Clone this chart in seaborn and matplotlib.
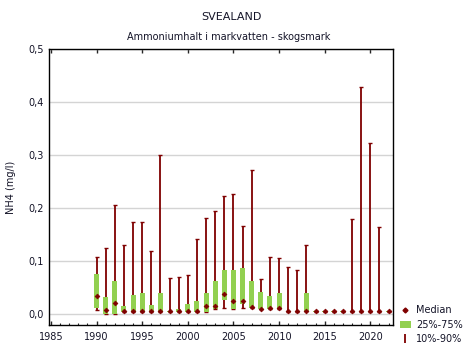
import matplotlib
matplotlib.use("Agg")
import matplotlib.pyplot as plt
import matplotlib.ticker as mticker
from matplotlib.lines import Line2D
from matplotlib.patches import Patch
import pandas as pd
import seaborn as sns

# Percentiles of NH4 per year (mg/l)
years = list(range(1990, 2023))
p10 = [0.008, 0.000, 0.000, 0.004, 0.004, 0.004, 0.004, 0.004, 0.004, 0.004,
       0.004, 0.004, 0.004, 0.010, 0.012, 0.010, 0.012, 0.012, 0.010, 0.010,
       0.010, 0.004, 0.004, 0.006, 0.005, 0.005, 0.005, 0.005, 0.005, 0.005,
       0.005, 0.005, 0.005]
p25 = [0.013, 0.000, 0.000, 0.004, 0.004, 0.004, 0.004, 0.004, 0.004, 0.004,
       0.004, 0.004, 0.004, 0.010, 0.027, 0.010, 0.019, 0.012, 0.010, 0.010,
       0.010, 0.004, 0.004, 0.006, 0.004, 0.004, 0.004, 0.004, 0.004, 0.004,
       0.004, 0.004, 0.004]
median = [0.035, 0.009, 0.021, 0.007, 0.007, 0.007, 0.007, 0.007, 0.007, 0.006,
          0.006, 0.006, 0.016, 0.016, 0.039, 0.026, 0.026, 0.014, 0.011, 0.012,
          0.012, 0.006, 0.006, 0.006, 0.006, 0.006, 0.006, 0.006, 0.006, 0.006,
          0.006, 0.006, 0.006]
p75 = [0.076, 0.033, 0.063, 0.016, 0.036, 0.040, 0.018, 0.040, 0.006, 0.011,
       0.019, 0.025, 0.040, 0.063, 0.084, 0.084, 0.087, 0.063, 0.042, 0.035,
       0.040, 0.006, 0.006, 0.040, 0.006, 0.006, 0.006, 0.006, 0.006, 0.006,
       0.006, 0.006, 0.006]
p90 = [0.109, 0.126, 0.206, 0.130, 0.174, 0.175, 0.119, 0.300, 0.068, 0.071,
       0.075, 0.142, 0.181, 0.195, 0.223, 0.227, 0.166, 0.272, 0.067, 0.109,
       0.106, 0.089, 0.083, 0.131, 0.006, 0.006, 0.006, 0.006, 0.179, 0.428,
       0.323, 0.165, 0.006]

df = pd.DataFrame({"year": years, "p10": p10, "p25": p25, "median": median,
                   "p75": p75, "p90": p90})

sns.set_style("white")
plt.rcParams["font.family"] = ["DejaVu Sans"]
text_col = "#141428"
red = "#7f0000"
green = "#92d050"

fig = plt.figure(figsize=(4.68, 3.51), dpi=100)
ax = fig.add_axes([0.105, 0.074, 0.735, 0.786])

# 10%-90% whiskers
ax.errorbar(df["year"], df["median"],
            yerr=[df["median"] - df["p10"], df["p90"] - df["median"]],
            fmt="none", ecolor=red, elinewidth=1.3, capsize=1.6,
            capthick=1.0, zorder=2)
# 25%-75% boxes
ax.bar(df["year"], df["p75"] - df["p25"], bottom=df["p25"], width=0.55,
       color=green, linewidth=0, zorder=3)
# medians
sns.scatterplot(data=df, x="year", y="median", ax=ax, marker="D", s=6,
                color=red, edgecolor=red, linewidth=0.5, zorder=4, legend=False)

ax.set_xlim(1984.8, 2022.5)
ax.set_ylim(-0.02, 0.5)
ax.xaxis.set_major_locator(mticker.MultipleLocator(5))
ax.xaxis.set_minor_locator(mticker.MultipleLocator(1))
ax.yaxis.set_major_locator(mticker.MultipleLocator(0.1))
ax.yaxis.set_major_formatter(
    mticker.FuncFormatter(lambda v, p: f"{v:.1f}".replace(".", ",")))
ax.grid(axis="y", color="#d4d4d4", linewidth=1.0, zorder=0)
ax.set_axisbelow(True)

ax.tick_params(axis="x", which="major", direction="in", length=3, width=1,
               top=True, bottom=True, labelsize=7, labelcolor=text_col, pad=5)
ax.tick_params(axis="x", which="minor", direction="in", length=1.5, width=0.8,
               bottom=True, top=False)
ax.tick_params(axis="y", which="major", length=0, labelsize=7,
               labelcolor=text_col, pad=4)
for s in ax.spines.values():
    s.set_color("black")
    s.set_linewidth(1.0)

ax.set_xlabel("")
ax.set_ylabel("NH4 (mg/l)", fontsize=7, color=text_col, labelpad=9)

fig.text(0.495, 0.952, "SVEALAND", ha="center", va="center", fontsize=8,
         color=text_col)
fig.text(0.488, 0.895, "Ammoniumhalt i markvatten - skogsmark", ha="center",
         va="center", fontsize=7, color=text_col)

handles = [
    Line2D([], [], marker="D", linestyle="none", color=red, markersize=2.5),
    Patch(facecolor=green, edgecolor="none"),
    ax.errorbar([], [], yerr=[], fmt="none", ecolor=red, elinewidth=1.3,
                capsize=4, capthick=1.0),
]
fig.legend(handles, ["Median", "25%-75%", "10%-90%"], loc="lower left",
           bbox_to_anchor=(0.835, -0.005), frameon=False, fontsize=7,
           handlelength=1.2, handletextpad=0.5, labelspacing=0.45,
           labelcolor=text_col)

fig.savefig("out.png", dpi=100)
